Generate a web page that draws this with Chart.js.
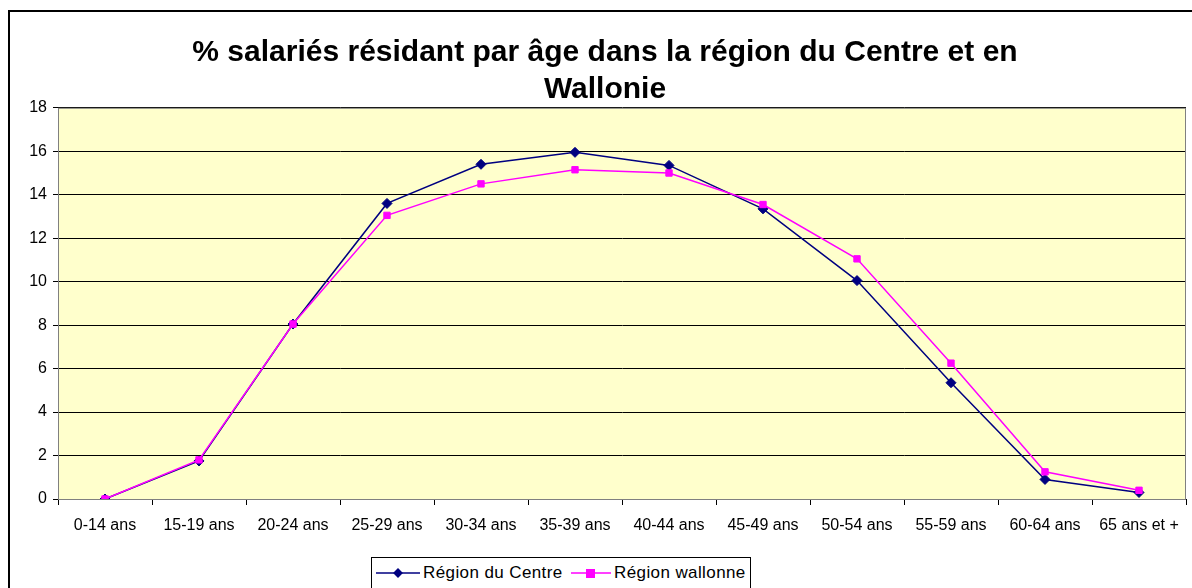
<!DOCTYPE html>
<html>
<head>
<meta charset="utf-8">
<script src="https://cdn.jsdelivr.net/npm/chart.js@4.4.0/dist/chart.umd.min.js"></script>
<style>
  body { margin: 0; background: #fff; }
  #wrap { position: relative; width: 1192px; height: 588px; overflow: hidden; }
  #frame { position: absolute; left: 8px; top: 10px; width: 1200px; height: 600px; border: 2px solid #000; }
  #chart { position: absolute; left: 0; top: 0; }
  #legend { position: absolute; left: 371px; top: 557px; width: 378px; height: 40px; border: 1px solid #000;
            background: #fff; font: 17px "Liberation Sans", Arial, sans-serif; letter-spacing: 0.4px; color: #000; }
  #legend span.item { position: absolute; top: 5px; white-space: nowrap; }
  #legend svg { vertical-align: -2px; margin-right: 3px; }
</style>
</head>
<body>
<div id="wrap">
  <div id="frame"></div>
  <canvas id="chart" width="1192" height="588"></canvas>
  <div id="legend">
    <span class="item" style="left:4px">
      <svg width="44" height="14"><line x1="0" y1="7" x2="44" y2="7" stroke="#000080" stroke-width="1.5"/><rect x="18.5" y="3.5" width="7" height="7" fill="#000080" transform="rotate(45 22 7)"/></svg>Région du Centre
    </span>
    <span class="item" style="left:199px">
      <svg width="40" height="14"><line x1="0" y1="7" x2="40" y2="7" stroke="#ff00ff" stroke-width="1.5"/><rect x="15" y="3" width="9" height="9" fill="#ff00ff"/></svg>Région wallonne
    </span>
  </div>
</div>
<script>
var categories = ["0-14 ans", "15-19 ans", "20-24 ans", "25-29 ans", "30-34 ans", "35-39 ans",
                  "40-44 ans", "45-49 ans", "50-54 ans", "55-59 ans", "60-64 ans", "65 ans et +"];
var centre   = [0, 1.75, 8.05, 13.6, 15.4, 15.95, 15.35, 13.35, 10.05, 5.35, 0.9, 0.3];
var wallonne = [0, 1.8, 8.05, 13.05, 14.5, 15.15, 15.0, 13.55, 11.05, 6.25, 1.25, 0.4];
var yTicks = [0, 2, 4, 6, 8, 10, 12, 14, 16, 18];
var titleLines = ["% salariés résidant par âge dans la région du Centre et en", "Wallonie"];

var plotBg = {
  id: 'plotBg',
  beforeDraw: function(chart) {
    var a = chart.chartArea, ctx = chart.ctx;
    ctx.save();
    ctx.fillStyle = '#ffffcc';
    ctx.fillRect(a.left, a.top, a.right - a.left, a.bottom - a.top);
    ctx.restore();
  },
  afterDatasetsDraw: function(chart) {
    var a = chart.chartArea, ctx = chart.ctx;
    ctx.save();
    ctx.strokeStyle = '#808080';
    ctx.lineWidth = 1;
    ctx.strokeRect(a.left + 0.5, a.top + 0.5, a.right - a.left - 1, a.bottom - a.top);
    ctx.restore();
  }
};

var font = { family: '"Liberation Sans", Arial, sans-serif', size: 16 };

var chart = new Chart(document.getElementById("chart"), {
  type: 'line',
  data: {
    labels: categories,
    datasets: [{
        label: "Région du Centre",
        data: centre,
        order: 1,
        borderColor: "#000080",
        backgroundColor: "#000080",
        borderWidth: 1.5,
        pointStyle: 'rectRot',
        pointRadius: 5,
        pointBorderWidth: 1,
        fill: false,
        tension: 0
      }, {
        label: "Région wallonne",
        data: wallonne,
        order: 0,
        borderColor: "#ff00ff",
        backgroundColor: "#ff00ff",
        borderWidth: 1.5,
        pointStyle: 'rect',
        pointRadius: 4.5,
        pointBorderWidth: 1,
        fill: false,
        tension: 0
      }
    ]
  },
  plugins: [plotBg],
  options: {
    responsive: false,
    animation: false,
    layout: { padding: { left: 22, right: 4, top: 0, bottom: 0 } },
    plugins: {
      legend: { display: false },
      tooltip: { enabled: false },
      title: {
        display: true,
        text: titleLines,
        color: '#000',
        font: { family: '"Liberation Sans", Arial, sans-serif', size: 30, weight: 'bold', lineHeight: 1.23 },
        padding: { top: 34, bottom: 0 }
      }
    },
    scales: {
      x: {
        offset: true,
        grid: { offset: true, drawOnChartArea: false, color: '#000', tickLength: 6 },
        border: { color: '#000' },
        ticks: { color: '#000', font: font, padding: 11, maxRotation: 0, autoSkip: false },
        afterFit: function(s) { s.height = 89; }
      },
      y: {
        min: 0,
        max: 18,
        afterBuildTicks: function(s) { s.ticks = yTicks.map(function(v) { return { value: v }; }); },
        grid: { color: '#000', tickLength: 5 },
        border: { color: '#000' },
        ticks: { color: '#000', font: font, padding: 6 },
        afterFit: function(s) { s.width = 36; }
      }
    }
  }
});
</script>
</body>
</html>
